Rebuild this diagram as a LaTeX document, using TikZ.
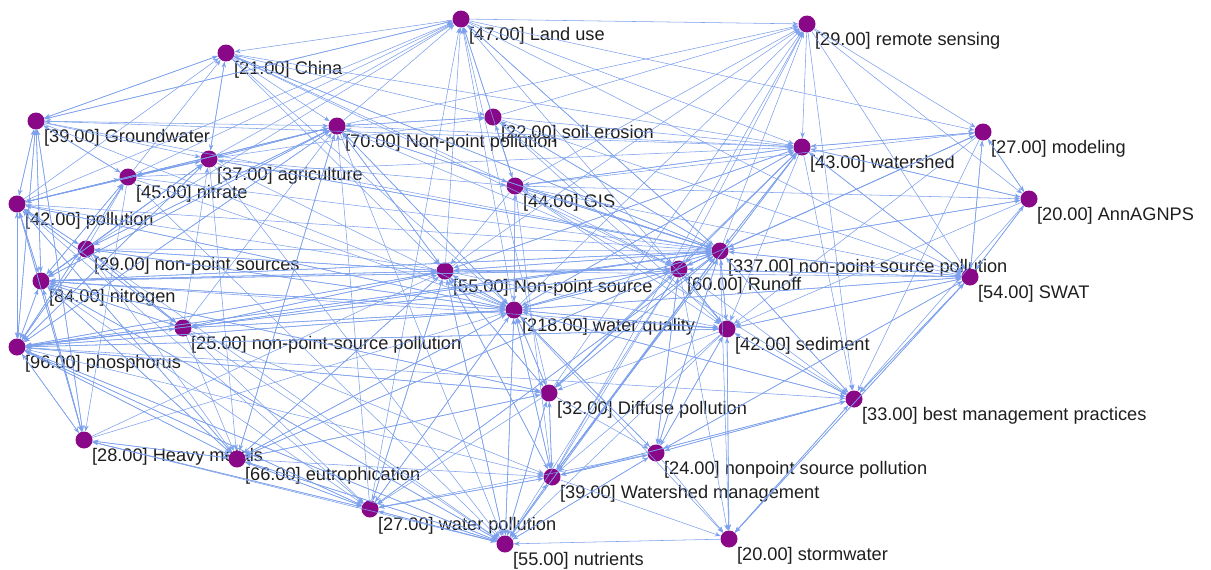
\documentclass[tikz,border=0pt]{standalone}
\usepackage{fontspec}
\setmainfont{Liberation Sans}
\usetikzlibrary{arrows.meta}
\definecolor{kwpurple}{RGB}{136,8,136}
\definecolor{linkblue}{RGB}{124,160,236}
\definecolor{lbltext}{RGB}{30,30,30}
\begin{document}
\begin{tikzpicture}
[every node/.style={inner sep=0pt},
 kw/.style={circle, minimum size=17pt, fill=kwpurple},
 lbl/.style={font=\fontsize{18.2}{20}\selectfont, text=lbltext, inner sep=0pt},
 label distance=2.5pt,
 conn/.style={line width=0.55pt, color=linkblue, -{Stealth[length=6pt, width=4.5pt]}}]
\useasboundingbox (0pt, 0pt) rectangle (1211pt, -570pt);
\node (1) [kw, label={[lbl]-45:{[47.00] Land use}}] at (461pt, -19pt) {};
\node (2) [kw, label={[lbl]-45:{[29.00] remote sensing}}] at (807pt, -24pt) {};
\node (3) [kw, label={[lbl]-45:{[21.00] China}}] at (226pt, -53pt) {};
\node (4) [kw, label={[lbl]-45:{[39.00] Groundwater}}] at (36pt, -121pt) {};
\node (5) [kw, label={[lbl]-45:{[70.00] Non-point pollution}}] at (337pt, -126pt) {};
\node (6) [kw, label={[lbl]-45:{[22.00] soil erosion}}] at (493pt, -117pt) {};
\node (7) [kw, label={[lbl]-45:{[27.00] modeling}}] at (983pt, -132pt) {};
\node (8) [kw, label={[lbl]-45:{[43.00] watershed}}] at (802pt, -147pt) {};
\node (9) [kw, label={[lbl]-45:{[37.00] agriculture}}] at (209pt, -159pt) {};
\node (10) [kw, label={[lbl]-45:{[45.00] nitrate}}] at (128pt, -177pt) {};
\node (11) [kw, label={[lbl]-45:{[44.00] GIS}}] at (515pt, -186pt) {};
\node (12) [kw, label={[lbl]-45:{[20.00] AnnAGNPS}}] at (1029pt, -199pt) {};
\node (13) [kw, label={[lbl]-45:{[42.00] pollution}}] at (17pt, -204pt) {};
\node (14) [kw, label={[lbl]-45:{[29.00] non-point sources}}] at (86pt, -249pt) {};
\node (15) [kw, label={[lbl]-45:{[337.00] non-point source pollution}}] at (720pt, -251pt) {};
\node (16) [kw, label={[lbl]-45:{[60.00] Runoff}}] at (679pt, -269pt) {};
\node (17) [kw, label={[lbl]-45:{[55.00] Non-point source}}] at (445pt, -271pt) {};
\node (18) [kw, label={[lbl]-45:{[54.00] SWAT}}] at (970pt, -277pt) {};
\node (19) [kw, label={[lbl]-45:{[84.00] nitrogen}}] at (41pt, -281pt) {};
\node (20) [kw, label={[lbl]-45:{[218.00] water quality}}] at (514pt, -310pt) {};
\node (21) [kw, label={[lbl]-45:{[42.00] sediment}}] at (727pt, -329pt) {};
\node (22) [kw, label={[lbl]-45:{[25.00] non-point-source pollution}}] at (183pt, -328pt) {};
\node (23) [kw, label={[lbl]-45:{[96.00] phosphorus}}] at (17pt, -347pt) {};
\node (24) [kw, label={[lbl]-45:{[32.00] Diffuse pollution}}] at (549pt, -393pt) {};
\node (25) [kw, label={[lbl]-45:{[33.00] best management practices}}] at (854pt, -399pt) {};
\node (26) [kw, label={[lbl]-45:{[28.00] Heavy metals}}] at (84pt, -440pt) {};
\node (27) [kw, label={[lbl]-45:{[66.00] eutrophication}}] at (237pt, -459pt) {};
\node (28) [kw, label={[lbl]-45:{[24.00] nonpoint source pollution}}] at (656pt, -453pt) {};
\node (29) [kw, label={[lbl]-45:{[39.00] Watershed management}}] at (552pt, -477pt) {};
\node (30) [kw, label={[lbl]-45:{[27.00] water pollution}}] at (370pt, -509pt) {};
\node (31) [kw, label={[lbl]-45:{[55.00] nutrients}}] at (505pt, -544pt) {};
\node (32) [kw, label={[lbl]-45:{[20.00] stormwater}}] at (729pt, -539pt) {};
\draw [conn] (1) to (2);
\draw [conn] (1) to (3);
\draw [conn] (1) to (4);
\draw [conn] (1) to (7);
\draw [conn] (1) to (8);
\draw [conn] (1) to (15);
\draw [conn] (1) to (18);
\draw [conn] (1) to (21);
\draw [conn] (2) to (7);
\draw [conn] (2) to (8);
\draw [conn] (2) to (12);
\draw [conn] (2) to (18);
\draw [conn] (2) to (25);
\draw [conn] (3) to (4);
\draw [conn] (3) to (5);
\draw [conn] (3) to (6);
\draw [conn] (3) to (8);
\draw [conn] (3) to (9);
\draw [conn] (3) to (11);
\draw [conn] (3) to (15);
\draw [conn] (3) to (16);
\draw [conn] (3) to (17);
\draw [conn] (3) to (20);
\draw [conn] (4) to (1);
\draw [conn] (4) to (3);
\draw [conn] (4) to (5);
\draw [conn] (4) to (9);
\draw [conn] (4) to (10);
\draw [conn] (4) to (13);
\draw [conn] (4) to (15);
\draw [conn] (4) to (19);
\draw [conn] (4) to (20);
\draw [conn] (4) to (23);
\draw [conn] (4) to (26);
\draw [conn] (5) to (1);
\draw [conn] (5) to (2);
\draw [conn] (5) to (6);
\draw [conn] (5) to (8);
\draw [conn] (5) to (9);
\draw [conn] (5) to (10);
\draw [conn] (5) to (13);
\draw [conn] (5) to (14);
\draw [conn] (5) to (15);
\draw [conn] (5) to (16);
\draw [conn] (5) to (17);
\draw [conn] (5) to (19);
\draw [conn] (5) to (20);
\draw [conn] (5) to (23);
\draw [conn] (5) to (27);
\draw [conn] (5) to (31);
\draw [conn] (6) to (1);
\draw [conn] (6) to (2);
\draw [conn] (6) to (5);
\draw [conn] (6) to (8);
\draw [conn] (6) to (11);
\draw [conn] (6) to (15);
\draw [conn] (6) to (16);
\draw [conn] (6) to (18);
\draw [conn] (6) to (21);
\draw [conn] (7) to (8);
\draw [conn] (7) to (12);
\draw [conn] (7) to (15);
\draw [conn] (7) to (16);
\draw [conn] (7) to (18);
\draw [conn] (7) to (21);
\draw [conn] (7) to (25);
\draw [conn] (8) to (4);
\draw [conn] (8) to (7);
\draw [conn] (8) to (11);
\draw [conn] (8) to (12);
\draw [conn] (8) to (15);
\draw [conn] (8) to (16);
\draw [conn] (8) to (17);
\draw [conn] (8) to (18);
\draw [conn] (8) to (20);
\draw [conn] (8) to (21);
\draw [conn] (8) to (24);
\draw [conn] (8) to (25);
\draw [conn] (8) to (29);
\draw [conn] (9) to (1);
\draw [conn] (9) to (3);
\draw [conn] (9) to (5);
\draw [conn] (9) to (6);
\draw [conn] (9) to (10);
\draw [conn] (9) to (11);
\draw [conn] (9) to (13);
\draw [conn] (9) to (15);
\draw [conn] (9) to (19);
\draw [conn] (9) to (20);
\draw [conn] (9) to (23);
\draw [conn] (9) to (27);
\draw [conn] (9) to (31);
\draw [conn] (10) to (1);
\draw [conn] (10) to (3);
\draw [conn] (10) to (4);
\draw [conn] (10) to (8);
\draw [conn] (10) to (9);
\draw [conn] (10) to (13);
\draw [conn] (10) to (15);
\draw [conn] (10) to (19);
\draw [conn] (10) to (20);
\draw [conn] (10) to (23);
\draw [conn] (10) to (26);
\draw [conn] (10) to (31);
\draw [conn] (11) to (1);
\draw [conn] (11) to (2);
\draw [conn] (11) to (6);
\draw [conn] (11) to (7);
\draw [conn] (11) to (8);
\draw [conn] (11) to (12);
\draw [conn] (11) to (15);
\draw [conn] (11) to (16);
\draw [conn] (11) to (17);
\draw [conn] (11) to (18);
\draw [conn] (11) to (20);
\draw [conn] (11) to (21);
\draw [conn] (11) to (25);
\draw [conn] (11) to (29);
\draw [conn] (12) to (7);
\draw [conn] (12) to (8);
\draw [conn] (12) to (15);
\draw [conn] (12) to (18);
\draw [conn] (12) to (21);
\draw [conn] (12) to (25);
\draw [conn] (13) to (1);
\draw [conn] (13) to (3);
\draw [conn] (13) to (4);
\draw [conn] (13) to (5);
\draw [conn] (13) to (9);
\draw [conn] (13) to (10);
\draw [conn] (13) to (14);
\draw [conn] (13) to (15);
\draw [conn] (13) to (19);
\draw [conn] (13) to (20);
\draw [conn] (13) to (22);
\draw [conn] (13) to (23);
\draw [conn] (13) to (26);
\draw [conn] (13) to (27);
\draw [conn] (13) to (30);
\draw [conn] (14) to (1);
\draw [conn] (14) to (5);
\draw [conn] (14) to (9);
\draw [conn] (14) to (10);
\draw [conn] (14) to (13);
\draw [conn] (14) to (15);
\draw [conn] (14) to (17);
\draw [conn] (14) to (19);
\draw [conn] (14) to (20);
\draw [conn] (14) to (22);
\draw [conn] (14) to (23);
\draw [conn] (14) to (27);
\draw [conn] (14) to (31);
\draw [conn] (15) to (1);
\draw [conn] (15) to (2);
\draw [conn] (15) to (3);
\draw [conn] (15) to (5);
\draw [conn] (15) to (6);
\draw [conn] (15) to (7);
\draw [conn] (15) to (8);
\draw [conn] (15) to (9);
\draw [conn] (15) to (11);
\draw [conn] (15) to (12);
\draw [conn] (15) to (16);
\draw [conn] (15) to (17);
\draw [conn] (15) to (18);
\draw [conn] (15) to (19);
\draw [conn] (15) to (20);
\draw [conn] (15) to (21);
\draw [conn] (15) to (22);
\draw [conn] (15) to (23);
\draw [conn] (15) to (24);
\draw [conn] (15) to (25);
\draw [conn] (15) to (27);
\draw [conn] (15) to (28);
\draw [conn] (15) to (29);
\draw [conn] (15) to (30);
\draw [conn] (15) to (31);
\draw [conn] (15) to (32);
\draw [conn] (16) to (2);
\draw [conn] (16) to (8);
\draw [conn] (16) to (15);
\draw [conn] (16) to (17);
\draw [conn] (16) to (18);
\draw [conn] (16) to (19);
\draw [conn] (16) to (20);
\draw [conn] (16) to (21);
\draw [conn] (16) to (23);
\draw [conn] (16) to (24);
\draw [conn] (16) to (25);
\draw [conn] (16) to (28);
\draw [conn] (16) to (29);
\draw [conn] (16) to (31);
\draw [conn] (16) to (32);
\draw [conn] (17) to (1);
\draw [conn] (17) to (2);
\draw [conn] (17) to (5);
\draw [conn] (17) to (8);
\draw [conn] (17) to (13);
\draw [conn] (17) to (14);
\draw [conn] (17) to (15);
\draw [conn] (17) to (16);
\draw [conn] (17) to (18);
\draw [conn] (17) to (19);
\draw [conn] (17) to (20);
\draw [conn] (17) to (21);
\draw [conn] (17) to (22);
\draw [conn] (17) to (23);
\draw [conn] (17) to (24);
\draw [conn] (17) to (27);
\draw [conn] (17) to (29);
\draw [conn] (17) to (30);
\draw [conn] (17) to (31);
\draw [conn] (18) to (7);
\draw [conn] (18) to (8);
\draw [conn] (18) to (12);
\draw [conn] (18) to (15);
\draw [conn] (18) to (16);
\draw [conn] (18) to (20);
\draw [conn] (18) to (21);
\draw [conn] (18) to (25);
\draw [conn] (18) to (28);
\draw [conn] (18) to (32);
\draw [conn] (19) to (4);
\draw [conn] (19) to (5);
\draw [conn] (19) to (9);
\draw [conn] (19) to (10);
\draw [conn] (19) to (13);
\draw [conn] (19) to (14);
\draw [conn] (19) to (15);
\draw [conn] (19) to (16);
\draw [conn] (19) to (17);
\draw [conn] (19) to (20);
\draw [conn] (19) to (22);
\draw [conn] (19) to (23);
\draw [conn] (19) to (24);
\draw [conn] (19) to (26);
\draw [conn] (19) to (27);
\draw [conn] (19) to (30);
\draw [conn] (19) to (31);
\draw [conn] (20) to (1);
\draw [conn] (20) to (2);
\draw [conn] (20) to (5);
\draw [conn] (20) to (8);
\draw [conn] (20) to (11);
\draw [conn] (20) to (13);
\draw [conn] (20) to (14);
\draw [conn] (20) to (15);
\draw [conn] (20) to (16);
\draw [conn] (20) to (17);
\draw [conn] (20) to (18);
\draw [conn] (20) to (19);
\draw [conn] (20) to (21);
\draw [conn] (20) to (22);
\draw [conn] (20) to (23);
\draw [conn] (20) to (24);
\draw [conn] (20) to (25);
\draw [conn] (20) to (27);
\draw [conn] (20) to (28);
\draw [conn] (20) to (29);
\draw [conn] (20) to (30);
\draw [conn] (20) to (31);
\draw [conn] (20) to (32);
\draw [conn] (21) to (15);
\draw [conn] (21) to (16);
\draw [conn] (21) to (18);
\draw [conn] (21) to (19);
\draw [conn] (21) to (20);
\draw [conn] (21) to (23);
\draw [conn] (21) to (24);
\draw [conn] (21) to (25);
\draw [conn] (21) to (28);
\draw [conn] (21) to (29);
\draw [conn] (21) to (31);
\draw [conn] (21) to (32);
\draw [conn] (22) to (5);
\draw [conn] (22) to (9);
\draw [conn] (22) to (13);
\draw [conn] (22) to (14);
\draw [conn] (22) to (15);
\draw [conn] (22) to (17);
\draw [conn] (22) to (19);
\draw [conn] (22) to (20);
\draw [conn] (22) to (23);
\draw [conn] (22) to (27);
\draw [conn] (22) to (29);
\draw [conn] (22) to (30);
\draw [conn] (22) to (31);
\draw [conn] (23) to (4);
\draw [conn] (23) to (5);
\draw [conn] (23) to (9);
\draw [conn] (23) to (10);
\draw [conn] (23) to (13);
\draw [conn] (23) to (14);
\draw [conn] (23) to (15);
\draw [conn] (23) to (16);
\draw [conn] (23) to (17);
\draw [conn] (23) to (19);
\draw [conn] (23) to (20);
\draw [conn] (23) to (21);
\draw [conn] (23) to (22);
\draw [conn] (23) to (24);
\draw [conn] (23) to (25);
\draw [conn] (23) to (26);
\draw [conn] (23) to (27);
\draw [conn] (23) to (29);
\draw [conn] (23) to (30);
\draw [conn] (23) to (31);
\draw [conn] (24) to (1);
\draw [conn] (24) to (2);
\draw [conn] (24) to (15);
\draw [conn] (24) to (16);
\draw [conn] (24) to (17);
\draw [conn] (24) to (19);
\draw [conn] (24) to (20);
\draw [conn] (24) to (23);
\draw [conn] (24) to (27);
\draw [conn] (24) to (28);
\draw [conn] (24) to (29);
\draw [conn] (24) to (30);
\draw [conn] (24) to (31);
\draw [conn] (25) to (15);
\draw [conn] (25) to (18);
\draw [conn] (25) to (20);
\draw [conn] (25) to (21);
\draw [conn] (25) to (28);
\draw [conn] (25) to (29);
\draw [conn] (25) to (32);
\draw [conn] (26) to (4);
\draw [conn] (26) to (13);
\draw [conn] (26) to (17);
\draw [conn] (26) to (19);
\draw [conn] (26) to (20);
\draw [conn] (26) to (23);
\draw [conn] (26) to (27);
\draw [conn] (26) to (30);
\draw [conn] (26) to (31);
\draw [conn] (27) to (5);
\draw [conn] (27) to (13);
\draw [conn] (27) to (15);
\draw [conn] (27) to (17);
\draw [conn] (27) to (19);
\draw [conn] (27) to (20);
\draw [conn] (27) to (23);
\draw [conn] (27) to (24);
\draw [conn] (27) to (26);
\draw [conn] (27) to (29);
\draw [conn] (27) to (30);
\draw [conn] (27) to (31);
\draw [conn] (28) to (15);
\draw [conn] (28) to (16);
\draw [conn] (28) to (18);
\draw [conn] (28) to (20);
\draw [conn] (28) to (21);
\draw [conn] (28) to (25);
\draw [conn] (28) to (29);
\draw [conn] (28) to (30);
\draw [conn] (28) to (31);
\draw [conn] (28) to (32);
\draw [conn] (29) to (2);
\draw [conn] (29) to (8);
\draw [conn] (29) to (15);
\draw [conn] (29) to (17);
\draw [conn] (29) to (20);
\draw [conn] (29) to (24);
\draw [conn] (29) to (25);
\draw [conn] (29) to (28);
\draw [conn] (29) to (30);
\draw [conn] (29) to (31);
\draw [conn] (29) to (32);
\draw [conn] (30) to (1);
\draw [conn] (30) to (5);
\draw [conn] (30) to (15);
\draw [conn] (30) to (17);
\draw [conn] (30) to (20);
\draw [conn] (30) to (23);
\draw [conn] (30) to (26);
\draw [conn] (30) to (27);
\draw [conn] (30) to (29);
\draw [conn] (30) to (31);
\draw [conn] (31) to (15);
\draw [conn] (31) to (17);
\draw [conn] (31) to (19);
\draw [conn] (31) to (20);
\draw [conn] (31) to (23);
\draw [conn] (31) to (24);
\draw [conn] (31) to (27);
\draw [conn] (31) to (28);
\draw [conn] (31) to (29);
\draw [conn] (31) to (30);
\draw [conn] (32) to (18);
\draw [conn] (32) to (21);
\draw [conn] (32) to (25);
\draw [conn] (32) to (31);
\end{tikzpicture}
\end{document}
